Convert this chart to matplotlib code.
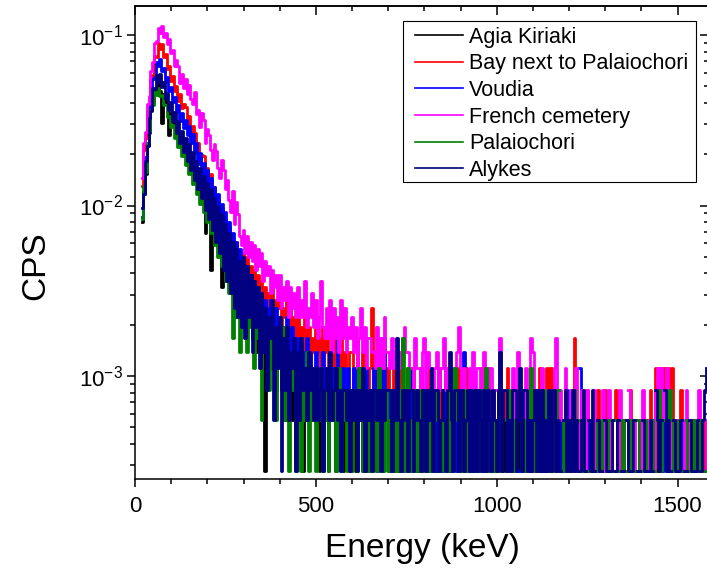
import numpy as np
import matplotlib
matplotlib.use('Agg')
import matplotlib.pyplot as plt
from matplotlib.ticker import MultipleLocator, LogLocator, NullFormatter
from matplotlib.patches import Rectangle

# counts per 5 keV bin, first bin at 20 keV, live time 1 h
energy = np.arange(20, 1581, 5)
live_time = 3600.0

agia_kiriaki = [
    29, 44, 55, 81, 96, 130, 146, 172, 175, 186,
    170, 110, 163, 146, 143, 93, 125, 111, 109, 97,
    96, 85, 85, 75, 76, 67, 68, 59, 60, 52,
    54, 46, 48, 40, 43, 25, 38, 31, 15, 29,
    26, 27, 21, 25, 12, 21, 16, 18, 14, 16,
    12, 14, 10, 12, 9, 11,
    11, 7, 10, 8, 9, 6, 10, 5, 8, 7,
    6, 8, 1, 7, 5, 6, 4, 7, 3, 5,
    5, 3, 4, 2, 5, 3, 4, 2, 3, 4,
    3, 2, 4, 1, 3, 2, 4, 3, 2, 3,
    2, 3, 1, 3, 2, 4, 2, 1, 3, 2,
    3, 1, 2, 3, 2, 1, 3, 2, 2, 1,
    2, 3, 1, 2, 3, 2, 1, 3, 2, 1,
    2, 1, 3, 2, 1, 2, 3, 1, 2, 2,
    3, 1, 2, 1, 3, 2, 1, 2, 3, 1,
    2, 1, 2, 3, 1, 2, 1, 3, 2, 1,
    2, 3, 1, 2, 1, 2, 3, 1, 2, 0,
    1, 2, 3, 1, 2, 1, 0, 2, 1, 3,
    1, 2, 1, 3, 0, 2, 1, 2, 1, 2,
    0, 1, 2, 1, 3, 1, 2, 0, 1, 2,
    1, 2, 0, 1, 2, 1, 3, 1, 0, 2,
    1, 0, 2, 1, 2, 0, 1, 2, 1, 1,
    2, 1, 0, 2, 1, 1, 0, 2, 1, 0,
    1, 2, 1, 0, 1, 2, 0, 1, 1, 2,
    0, 1, 2, 1, 0, 1, 1, 2, 0, 1,
    1, 0, 1, 2, 0, 1, 0, 1, 2, 0,
    1, 1, 0, 2, 1, 0, 1, 0, 1, 2,
    2, 1, 0, 1, 0, 2, 1, 0, 1, 0,
    1, 0, 1, 2, 0, 1, 0, 1, 2, 1,
    2, 1, 0, 2, 1, 2, 0, 1, 1, 0,
    1, 0, 2, 1, 0, 1, 0, 1, 2, 0,
    1, 0, 1, 0, 2, 1, 0,
]

bay_palaiochori = [
    47, 76, 90, 127, 142, 196, 210, 270, 268, 322,
    297, 318, 266, 279, 228, 238, 193, 206, 169, 182,
    147, 163, 134, 142, 137, 110, 121, 94, 105, 96,
    76, 84, 66, 71, 70, 54, 60, 48, 55, 41,
    46, 36, 39, 30, 35, 26, 30, 23, 27, 19,
    23, 18, 22, 16, 19, 15,
    19, 14, 18, 13, 16, 12, 15, 11, 14, 12,
    13, 10, 12, 9, 11, 10, 12, 8, 10, 9,
    11, 7, 9, 8, 10, 6, 9, 7, 8, 6,
    9, 6, 7, 5, 8, 6, 7, 4, 6, 5,
    7, 5, 6, 4, 7, 5, 6, 3, 5, 4,
    6, 4, 5, 3, 6, 4, 5, 3, 4, 5,
    5, 3, 4, 6, 3, 4, 5, 2, 4, 3,
    4, 9, 3, 4, 2, 5, 6, 3, 4, 2,
    4, 3, 2, 4, 3, 5, 2, 5, 3, 2,
    3, 4, 2, 3, 4, 2, 3, 1, 4, 2,
    3, 2, 4, 2, 3, 1, 3, 2, 4, 2,
    2, 3, 4, 2, 3, 1, 2, 3, 2, 4,
    2, 3, 1, 4, 2, 3, 2, 1, 3, 2,
    3, 2, 4, 2, 1, 4, 2, 3, 1, 2,
    2, 3, 1, 2, 3, 2, 4, 1, 2, 3,
    1, 2, 3, 2, 1, 3, 2, 0, 2, 3,
    2, 1, 3, 2, 4, 1, 2, 3, 4, 1,
    4, 2, 1, 3, 2, 1, 2, 0, 3, 2,
    1, 2, 3, 6, 2, 1, 2, 3, 1, 2,
    3, 1, 2, 0, 2, 1, 3, 2, 1, 2,
    3, 1, 2, 1, 0, 2, 3, 1, 2, 1,
    2, 0, 1, 2, 3, 1, 2, 0, 1, 2,
    1, 2, 0, 2, 1, 3, 1, 2, 4, 4,
    3, 4, 2, 4, 3, 4, 2, 4, 2, 1,
    2, 1, 3, 1, 0, 2, 1, 2, 1, 0,
    1, 2, 1, 0, 2, 1, 1,
]

voudia = [
    31, 42, 69, 84, 128, 146, 199, 204, 249, 236,
    259, 221, 232, 192, 203, 168, 178, 146, 156, 128,
    139, 113, 125, 102, 114, 93, 106, 84, 95, 73,
    84, 63, 73, 55, 64, 49, 58, 43, 52, 37,
    46, 33, 42, 29, 37, 26, 33, 22, 29, 19,
    25, 17, 22, 15, 20, 13,
    17, 12, 16, 13, 14, 11, 13, 10, 12, 9,
    11, 8, 10, 9, 7, 10, 8, 6, 9, 7,
    8, 6, 7, 5, 8, 6, 5, 7, 4, 6,
    5, 6, 4, 5, 3, 6, 4, 5, 3, 4,
    5, 3, 4, 2, 5, 3, 4, 3, 5, 2,
    4, 3, 7, 3, 2, 4, 3, 2, 4, 3,
    3, 4, 2, 3, 4, 2, 3, 1, 4, 2,
    3, 2, 4, 3, 1, 3, 2, 4, 6, 2,
    3, 2, 1, 3, 2, 4, 2, 3, 1, 2,
    3, 2, 4, 1, 2, 3, 2, 1, 3, 2,
    2, 3, 1, 2, 4, 2, 1, 3, 2, 2,
    1, 3, 2, 2, 1, 3, 2, 4, 1, 2,
    3, 1, 5, 2, 1, 3, 2, 1, 2, 3,
    1, 2, 3, 1, 2, 0, 2, 3, 1, 2,
    2, 1, 3, 2, 0, 2, 1, 3, 2, 1,
    2, 3, 1, 0, 2, 1, 2, 3, 1, 2,
    1, 2, 0, 3, 1, 2, 1, 2, 0, 1,
    2, 1, 3, 1, 0, 2, 1, 2, 1, 3,
    1, 2, 3, 1, 2, 0, 4, 1, 2, 0,
    1, 2, 0, 1, 2, 1, 0, 2, 1, 1,
    2, 0, 1, 2, 1, 0, 2, 1, 0, 2,
    1, 2, 0, 1, 0, 2, 1, 0, 2, 1,
    0, 1, 2, 1, 0, 2, 1, 1, 2, 3,
    2, 3, 1, 2, 3, 1, 2, 0, 1, 2,
    1, 0, 2, 1, 0, 1, 2, 0, 1, 2,
    0, 1, 2, 1, 0, 1, 2,
]

french_cemetery = [
    52, 84, 97, 141, 158, 222, 251, 325, 331, 398,
    371, 409, 352, 372, 318, 343, 281, 296, 238, 258,
    236, 189, 214, 176, 199, 162, 183, 151, 141, 167,
    124, 131, 104, 126, 115, 84, 101, 93, 76, 67,
    83, 75, 60, 52, 67, 58, 45, 51, 39, 33,
    44, 28, 38, 32, 24, 21,
    26, 19, 24, 18, 22, 17, 21, 15, 20, 16,
    19, 13, 17, 14, 16, 11, 15, 12, 14, 10,
    14, 9, 12, 10, 13, 8, 12, 9, 11, 8,
    12, 8, 10, 8, 13, 7, 9, 8, 11, 7,
    10, 6, 8, 13, 7, 6, 9, 6, 10, 5,
    9, 6, 8, 5, 10, 6, 9, 5, 7, 6,
    8, 5, 7, 4, 6, 9, 5, 7, 4, 6,
    6, 5, 5, 4, 7, 4, 6, 4, 8, 5,
    5, 4, 6, 4, 5, 3, 5, 4, 6, 7,
    5, 5, 4, 4, 3, 6, 4, 4, 3, 5,
    6, 3, 5, 4, 4, 3, 4, 5, 3, 4,
    4, 6, 3, 4, 3, 4, 4, 3, 5, 7,
    4, 3, 4, 3, 3, 4, 2, 5, 3, 4,
    4, 3, 3, 5, 3, 2, 4, 4, 2, 3,
    3, 2, 6, 2, 3, 3, 2, 3, 1, 4,
    2, 3, 5, 2, 3, 2, 4, 1, 3, 6,
    5, 2, 3, 1, 2, 4, 2, 3, 2, 1,
    3, 2, 4, 6, 1, 3, 2, 2, 4, 1,
    2, 3, 1, 2, 4, 2, 1, 3, 2, 1,
    3, 2, 1, 2, 3, 1, 2, 0, 2, 3,
    1, 2, 3, 1, 2, 0, 2, 1, 3, 2,
    1, 2, 0, 3, 1, 2, 1, 2, 0, 2,
    1, 3, 2, 1, 2, 0, 2, 1, 3, 4,
    3, 4, 2, 3, 4, 2, 3, 1, 2, 1,
    2, 1, 0, 2, 1, 3, 1, 2, 0, 1,
    2, 1, 3, 1, 0, 2, 1,
]

palaiochori = [
    30, 47, 57, 84, 98, 131, 139, 166, 161, 176,
    158, 160, 139, 140, 119, 121, 104, 107, 90, 94,
    79, 83, 70, 74, 62, 66, 55, 57, 48, 51,
    42, 45, 37, 40, 33, 35, 29, 31, 25, 27,
    21, 24, 18, 21, 16, 18, 13, 16, 11, 14,
    6, 12, 8, 10, 5, 9,
    9, 12, 5, 10, 7, 11, 4, 9, 6, 8,
    2, 7, 5, 8, 3, 6, 4, 7, 2, 5,
    6, 3, 7, 2, 4, 1, 5, 3, 4, 1,
    3, 4, 1, 3, 2, 5, 1, 3, 2, 4,
    1, 3, 2, 4, 1, 3, 2, 1, 4, 2,
    3, 1, 2, 4, 1, 3, 2, 1, 3, 2,
    1, 3, 2, 1, 4, 2, 1, 3, 2, 1,
    3, 1, 2, 3, 1, 4, 2, 1, 2, 3,
    1, 2, 3, 1, 2, 1, 3, 2, 6, 1,
    2, 4, 1, 2, 3, 1, 2, 1, 3, 2,
    1, 2, 3, 1, 2, 1, 3, 2, 1, 2,
    3, 1, 2, 1, 3, 2, 1, 4, 2, 1,
    2, 1, 3, 1, 2, 0, 2, 1, 3, 1,
    2, 1, 3, 2, 4, 1, 2, 0, 1, 2,
    1, 3, 1, 2, 0, 2, 1, 3, 1, 2,
    1, 2, 0, 3, 1, 2, 1, 0, 2, 4,
    1, 2, 3, 1, 0, 2, 3, 1, 2, 1,
    0, 1, 2, 1, 3, 0, 1, 2, 1, 0,
    2, 1, 0, 3, 1, 2, 0, 1, 2, 1,
    1, 0, 2, 1, 0, 1, 2, 0, 1, 2,
    0, 1, 2, 0, 1, 0, 2, 1, 0, 1,
    2, 1, 0, 1, 2, 0, 1, 0, 2, 1,
    1, 0, 2, 1, 0, 1, 2, 1, 0, 2,
    3, 1, 2, 0, 2, 1, 3, 2, 1, 0,
    1, 2, 0, 1, 0, 2, 1, 0, 1, 2,
    1, 0, 1, 2, 0, 1, 0,
]

alykes = [
    35, 42, 66, 80, 118, 129, 176, 174, 211, 190,
    213, 179, 192, 152, 165, 130, 145, 113, 127, 96,
    112, 84, 99, 74, 90, 66, 83, 58, 74, 51,
    66, 45, 60, 40, 54, 34, 49, 30, 45, 26,
    40, 22, 36, 19, 32, 15, 28, 13, 25, 11,
    22, 9, 20, 8, 17, 7,
    18, 6, 16, 8, 14, 5, 13, 7, 12, 4,
    11, 5, 9, 3, 8, 6, 10, 2, 7, 4,
    8, 1, 6, 3, 7, 2, 5, 4, 6, 1,
    5, 2, 6, 3, 4, 2, 5, 3, 4, 2,
    4, 2, 3, 4, 1, 3, 4, 2, 5, 2,
    3, 4, 2, 3, 1, 3, 3, 2, 3, 1,
    3, 2, 3, 1, 3, 2, 4, 1, 3, 2,
    3, 1, 3, 3, 2, 3, 1, 3, 2, 3,
    3, 3, 1, 3, 2, 6, 2, 1, 3, 2,
    3, 1, 3, 3, 1, 2, 3, 2, 1, 3,
    3, 1, 3, 2, 4, 1, 3, 3, 1, 2,
    3, 2, 1, 3, 5, 2, 1, 3, 3, 1,
    3, 3, 1, 2, 3, 1, 3, 1, 3, 1,
    3, 2, 1, 3, 1, 3, 2, 1, 3, 2,
    1, 3, 5, 1, 3, 3, 1, 2, 1, 3,
    3, 1, 2, 4, 1, 3, 3, 1, 2, 1,
    2, 3, 1, 3, 1, 3, 1, 2, 1, 3,
    1, 3, 3, 1, 2, 1, 0, 2, 3, 1,
    2, 1, 3, 1, 2, 1, 1, 2, 3, 1,
    0, 2, 1, 3, 1, 0, 2, 1, 1, 0,
    2, 1, 0, 1, 2, 0, 1, 2, 0, 1,
    1, 0, 2, 1, 0, 1, 2, 0, 1, 1,
    0, 2, 1, 0, 1, 2, 1, 0, 3, 2,
    1, 2, 0, 3, 1, 2, 1, 0, 2, 1,
    0, 1, 2, 0, 1, 1, 0, 2, 1, 0,
    1, 2, 0, 1, 2, 3, 4,
]

labels = ["Agia Kiriaki", "Bay next to Palaiochori", "Voudia",
          "French cemetery", "Palaiochori", "Alykes"]
colors = ["black", "red", "blue", "magenta", "green", "navy"]
spectra = [agia_kiriaki, bay_palaiochori, voudia, french_cemetery, palaiochori, alykes]

plt.rcParams['font.family'] = ['Liberation Sans', 'DejaVu Sans']
plt.rcParams['mathtext.fontset'] = 'custom'
plt.rcParams['mathtext.rm'] = 'Liberation Sans'
plt.rcParams['mathtext.it'] = 'Liberation Sans:italic'
plt.rcParams['mathtext.bf'] = 'Liberation Sans:bold'
plt.rcParams['mathtext.default'] = 'regular'

fig = plt.figure(figsize=(7.07, 5.75), dpi=100)
ax = fig.add_axes([135 / 707, 96 / 575, 574 / 707, 473 / 575])

for counts, lab, col in zip(spectra, labels, colors):
    c = np.array(counts, dtype=float)
    cps = np.where(c > 0, c / live_time, np.nan)
    ax.plot(energy, cps, color=col, lw=2.0, drawstyle='steps-mid', label=lab)

ax.set_yscale('log')
ax.set_xlim(0, 1587)
ax.set_ylim(2.49e-4, 0.148)

ax.xaxis.set_major_locator(MultipleLocator(500))
ax.xaxis.set_minor_locator(MultipleLocator(100))
ax.yaxis.set_major_locator(LogLocator(base=10))
ax.yaxis.set_minor_locator(LogLocator(base=10, subs=np.arange(2, 10)))
ax.yaxis.set_minor_formatter(NullFormatter())
ax.tick_params(which='major', direction='out', length=5.5, width=1.1, labelsize=16)
ax.tick_params(which='minor', direction='out', length=3.3, width=1.1)
ax.tick_params(axis='x', which='major', pad=7)
ax.tick_params(axis='y', which='major', pad=3)
for sp in ax.spines.values():
    sp.set_linewidth(1.1)

# mirrored ticks pointing inward on top and right
top = ax.secondary_xaxis('top')
top.xaxis.set_major_locator(MultipleLocator(500))
top.xaxis.set_minor_locator(MultipleLocator(100))
top.tick_params(which='major', direction='in', length=6.5, width=1.1, labeltop=False)
top.tick_params(which='minor', direction='in', length=3.5, width=1.1)
right = ax.secondary_yaxis('right')
right.yaxis.set_major_locator(LogLocator(base=10))
right.yaxis.set_minor_locator(LogLocator(base=10, subs=np.arange(2, 10)))
right.tick_params(which='major', direction='in', length=6.5, width=1.1, labelright=False)
right.tick_params(which='minor', direction='in', length=3.5, width=1.1, labelright=False)
for sec in (top, right):
    for sp in sec.spines.values():
        sp.set_linewidth(1.1)

# legend without its own frame, boxed by a rectangle
leg = ax.legend(loc='upper left', bbox_to_anchor=(415 / 707, 1 - 26.5 / 575),
                bbox_transform=fig.transFigure, fontsize=15.5, frameon=False,
                borderpad=0, labelspacing=0.265, handlelength=2.23,
                handletextpad=0.28, borderaxespad=0)
for h in leg.get_lines():
    h.set_linewidth(1.2)
box = Rectangle((403 / 707, 1 - 182 / 575), 293 / 707, 161 / 575,
                transform=fig.transFigure, facecolor='white', edgecolor='black',
                linewidth=0.8, zorder=4.5, clip_on=False)
ax.add_patch(box)

fig.text(422 / 707, 1 - 549 / 575, 'Energy (keV)', fontsize=24, ha='center', va='center')
fig.text(36 / 707, 1 - 266 / 575, 'CPS', fontsize=24, rotation=90, ha='center', va='center')

fig.savefig('out.png', dpi=100)
